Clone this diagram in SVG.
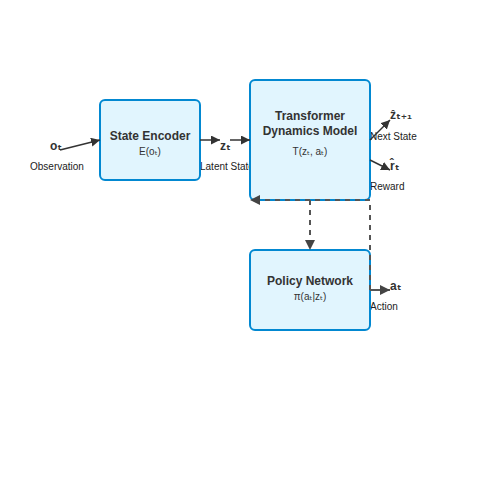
<svg xmlns="http://www.w3.org/2000/svg" width="500" height="500" viewBox="0 0 500 500">
<defs>
<marker id="ah" viewBox="0 0 10 10" refX="10" refY="5" markerWidth="6" markerHeight="6" orient="auto" markerUnits="strokeWidth">
<path d="M0,0 L10,5 L0,10 z" fill="#333"/>
</marker>
<marker id="ahg" viewBox="0 0 10 10" refX="10" refY="5" markerWidth="5" markerHeight="5" orient="auto" markerUnits="strokeWidth">
<path d="M0,0 L10,5 L0,10 z" fill="#444"/>
</marker>
</defs>
<style>
text{font-family:"Liberation Sans",Arial,"DejaVu Sans",sans-serif;fill:#333}
.node rect{fill:#e1f5fe;stroke:#0288d1;stroke-width:2}
.title{font-size:12px;font-weight:bold;text-anchor:middle}
.sub{font-size:10px;text-anchor:middle}
.var{font-size:12px;font-weight:bold}
.lbl{font-size:10px;fill:#222}
.arr{stroke:#333;stroke-width:1.5;fill:none;marker-end:url(#ah)}
.dash{stroke:#555;stroke-width:2;fill:none;stroke-dasharray:5,5;marker-end:url(#ahg)}
.sol{stroke:#555;stroke-width:2;fill:none;marker-end:url(#ahg)}
</style>
<rect width="500" height="500" fill="#fff"/>
<g id="labels">
<text class="var" x="50" y="150">oₜ</text>
<text class="lbl" x="30" y="170">Observation</text>
<text class="var" x="220" y="150">zₜ</text>
<text class="lbl" x="200" y="170">Latent State</text>
<text class="var" x="390" y="119">ẑₜ₊₁</text>
<text class="lbl" x="370" y="140">Next State</text>
<text class="var" x="390" y="170">r̂ₜ</text>
<text class="lbl" x="370" y="190">Reward</text>
<text class="var" x="390" y="290">aₜ</text>
<text class="lbl" x="370" y="310">Action</text>
</g>
<g id="encoder" class="node">
<rect x="100" y="100" width="100" height="80" rx="5"/>
<text class="title" x="150" y="140">State Encoder</text>
<text class="sub" x="150" y="155">E(oₜ)</text>
</g>
<g id="dynamics" class="node">
<rect x="250" y="80" width="120" height="120" rx="5"/>
<text class="title" x="310" y="120">Transformer</text>
<text class="title" x="310" y="135">Dynamics Model</text>
<text class="sub" x="310" y="155">T(zₜ, aₜ)</text>
</g>
<g id="policy" class="node">
<rect x="250" y="250" width="120" height="80" rx="5"/>
<text class="title" x="310" y="285">Policy Network</text>
<text class="sub" x="310" y="300">π(aₜ|zₜ)</text>
</g>
<g id="connectors">
<line class="arr" x1="60" y1="150" x2="100" y2="140"/>
<line class="arr" x1="200" y1="140" x2="220" y2="140"/>
<line class="arr" x1="230" y1="140" x2="250" y2="140"/>
<line class="arr" x1="370" y1="140" x2="390" y2="120"/>
<line class="arr" x1="370" y1="160" x2="390" y2="170"/>
<line class="dash" x1="310" y1="200" x2="310" y2="250"/>
<line class="sol" x1="370" y1="290" x2="390" y2="290"/>
<path class="dash" d="M370,290 L370,200 L250,200"/>
</g>
</svg>
